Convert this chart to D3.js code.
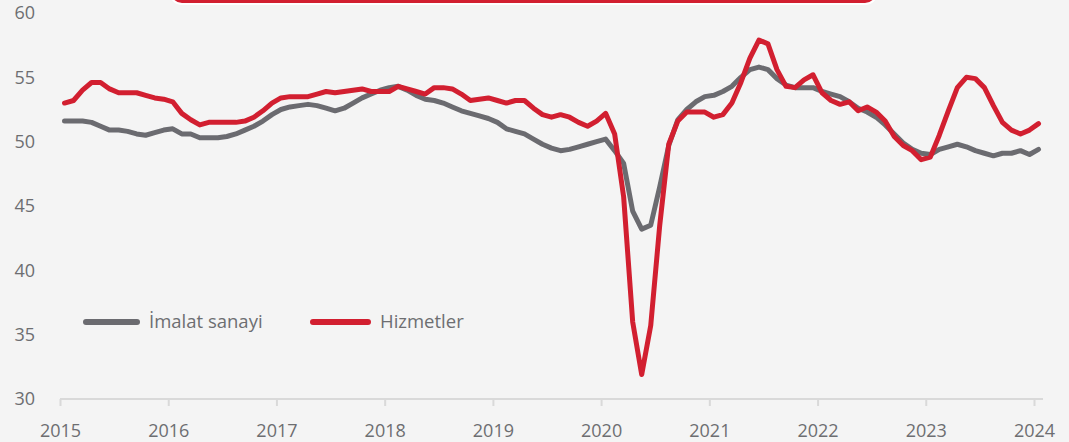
<!DOCTYPE html>
<html><head><meta charset="utf-8">
<script src="https://cdn.jsdelivr.net/npm/d3@7"></script>
<style>
html,body{margin:0;padding:0;background:#f4f4f4;}
svg{display:block;}
text{font-family:"Open Sans",sans-serif;fill:#6d6e71;}
</style></head><body>
<svg id="c" width="1069" height="442"></svg>
<script>
const startYear = 2015;
const yearTicks = [2015,2016,2017,2018,2019,2020,2021,2022,2023,2024];
const yTicks = [30,35,40,45,50,55,60];
const seriesNames = ["İmalat sanayi","Hizmetler"];
const seriesColors = ["#6b6b70","#d21f30"];
const imalat = [
51.6,51.6,51.6,51.5,51.2,50.9,50.9,50.8,50.6,50.5,50.7,50.9,
51.0,50.6,50.6,50.3,50.3,50.3,50.4,50.6,50.9,51.2,51.6,52.1,
52.5,52.7,52.8,52.9,52.8,52.6,52.4,52.6,53.0,53.4,53.7,54.0,
54.2,54.3,54.0,53.6,53.3,53.2,53.0,52.7,52.4,52.2,52.0,51.8,
51.5,51.0,50.8,50.6,50.2,49.8,49.5,49.3,49.4,49.6,49.8,50.0,
50.2,49.3,48.3,44.6,43.2,43.5,46.5,49.7,51.7,52.5,53.1,53.5,
53.6,53.9,54.3,55.0,55.6,55.8,55.6,54.9,54.4,54.2,54.2,54.2,
53.9,53.7,53.5,53.1,52.6,52.3,51.9,51.3,50.6,49.9,49.4,49.1,
49.0,49.4,49.6,49.8,49.6,49.3,49.1,48.9,49.1,49.1,49.3,49.0,
49.4];
const hizmetler = [
53.0,53.2,54.0,54.6,54.6,54.1,53.8,53.8,53.8,53.6,53.4,53.3,
53.1,52.2,51.7,51.3,51.5,51.5,51.5,51.5,51.6,51.9,52.4,53.0,
53.4,53.5,53.5,53.5,53.7,53.9,53.8,53.9,54.0,54.1,53.9,53.9,
53.9,54.3,54.1,53.9,53.7,54.2,54.2,54.1,53.7,53.2,53.3,53.4,
53.2,53.0,53.2,53.2,52.6,52.1,51.9,52.1,51.9,51.5,51.2,51.6,
52.2,50.6,45.7,36.0,31.9,35.7,43.5,49.8,51.6,52.3,52.3,52.3,
51.9,52.1,53.0,54.6,56.5,57.9,57.6,55.6,54.3,54.2,54.8,55.2,
53.8,53.2,52.9,53.1,52.4,52.7,52.3,51.6,50.4,49.7,49.3,48.6,
48.8,50.5,52.4,54.2,55.0,54.9,54.2,52.8,51.5,50.9,50.6,50.9,
51.4];

const svg = d3.select("#c");
const x = d3.scaleLinear().domain([2015,2024]).range([60,1034]);
const y = d3.scaleLinear().domain([30,60]).range([399,13]);
const t = i => startYear + (i + 0.5) / 12;

// top red box (partially visible)
svg.append("rect").attr("x",170).attr("y",-40).attr("width",707).attr("height",44)
  .attr("rx",12).attr("fill","#d21f30").attr("stroke","#ffffff").attr("stroke-width",2);

// x axis
const xa = svg.append("g").attr("transform","translate(0,399)")
  .call(d3.axisBottom(x).tickValues(yearTicks).tickFormat(d3.format("d")).tickSize(7).tickPadding(18));
xa.select(".domain").attr("d","M60,0H1043").attr("stroke","#d9d9d9").attr("stroke-width",2);
xa.selectAll(".tick line").attr("stroke","#d9d9d9").attr("stroke-width",2);
xa.selectAll(".tick text").attr("font-size",18).attr("fill","#6d6e71").attr("font-family","Open Sans");

// y labels
const ya = svg.append("g").attr("transform","translate(35,0)")
  .call(d3.axisLeft(y).tickValues(yTicks).tickSize(0).tickPadding(0));
ya.select(".domain").remove();
ya.selectAll(".tick text").attr("font-size",18).attr("fill","#6d6e71").attr("font-family","Open Sans");

const line = d3.line().x((d,i)=>x(t(i))).y(d=>y(d));
[imalat, hizmetler].forEach((s,k)=>{
  svg.append("path").datum(s).attr("d",line).attr("fill","none")
    .attr("stroke",seriesColors[k]).attr("stroke-width",5)
    .attr("stroke-linejoin","round").attr("stroke-linecap","round");
});

// legend
const leg = [{x1:86,x2:137,tx:149},{x1:313,x2:368,tx:380}];
leg.forEach((l,k)=>{
  svg.append("line").attr("x1",l.x1).attr("x2",l.x2).attr("y1",322).attr("y2",322)
    .attr("stroke",seriesColors[k]).attr("stroke-width",6).attr("stroke-linecap","round");
  svg.append("text").attr("x",l.tx).attr("y",328).attr("font-size",18.5).text(seriesNames[k]);
});
</script>
</body></html>
